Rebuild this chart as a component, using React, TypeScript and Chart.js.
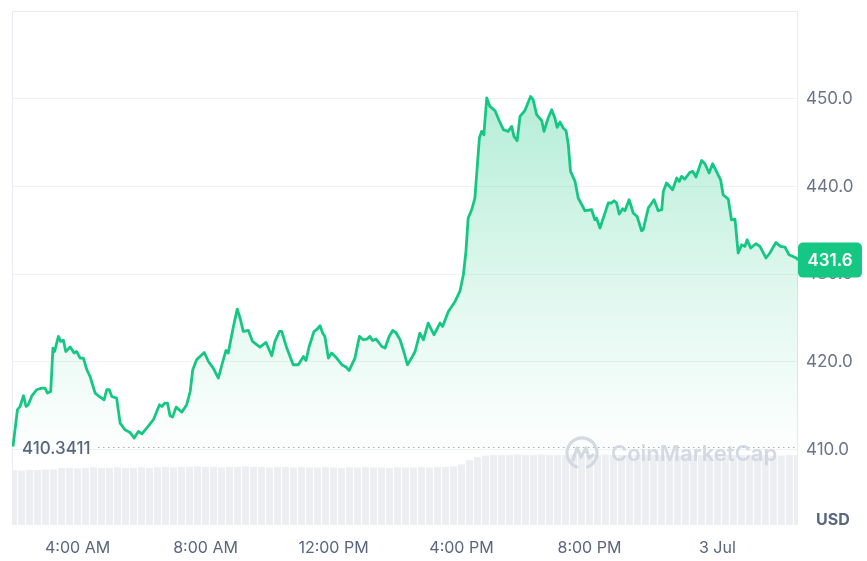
import React, { useEffect, useRef } from "react";
import { Chart, registerables } from "chart.js";

Chart.register(...registerables);

// ---- Data ----
// time in hours since 00:00 on 2 Jul
const priceTimes = [
  1.98, 2.12, 2.2, 2.31, 2.39, 2.46, 2.57, 2.72, 2.88, 2.98,
  3.06, 3.16, 3.23, 3.28, 3.4, 3.47, 3.56, 3.63, 3.77, 3.89,
  3.97, 4.08, 4.18, 4.29, 4.39, 4.55, 4.65, 4.83, 4.91, 4.99,
  5.07, 5.22, 5.33, 5.48, 5.64, 5.77, 5.9, 6.01, 6.16, 6.37,
  6.56, 6.63, 6.73, 6.81, 6.89, 6.97, 7.08, 7.26, 7.41, 7.52,
  7.6, 7.72, 7.85, 7.96, 8.09, 8.24, 8.4, 8.54, 8.64, 8.71,
  8.85, 8.99, 9.08, 9.18, 9.34, 9.47, 9.7, 9.89, 10.07, 10.17,
  10.31, 10.38, 10.54, 10.74, 10.9, 11.06, 11.14, 11.24, 11.39, 11.47,
  11.58, 11.66, 11.73, 11.84, 11.94, 12.1, 12.26, 12.39, 12.49, 12.67,
  12.81, 12.93, 13.04, 13.14, 13.22, 13.33, 13.51, 13.61, 13.74, 13.85,
  13.95, 14.08, 14.18, 14.31, 14.44, 14.55, 14.7, 14.81, 14.96, 15.14,
  15.33, 15.41, 15.59, 15.8, 15.95, 16.06, 16.14, 16.21, 16.32, 16.42,
  16.56, 16.63, 16.7, 16.79, 16.89, 17.05, 17.18, 17.31, 17.46, 17.57,
  17.64, 17.74, 17.83, 17.98, 18.16, 18.24, 18.35, 18.51, 18.58, 18.71,
  18.82, 18.92, 18.99, 19.08, 19.18, 19.27, 19.34, 19.41, 19.55, 19.65,
  19.86, 20.07, 20.17, 20.22, 20.33, 20.45, 20.59, 20.69, 20.77, 20.85,
  20.93, 21.04, 21.11, 21.24, 21.37, 21.49, 21.63, 21.68, 21.84, 22.02,
  22.15, 22.26, 22.31, 22.41, 22.6, 22.73, 22.81, 22.88, 22.98, 23.14,
  23.23, 23.33, 23.51, 23.61, 23.74, 23.85, 23.97, 24.1, 24.18, 24.34,
  24.44, 24.55, 24.65, 24.76, 24.86, 24.93, 25.04, 25.2, 25.33, 25.52,
  25.64, 25.83, 25.97, 26.11, 26.24, 26.47, 26.52,
];

const priceValues = [
  410.34, 414.54, 414.91, 416.13, 414.91, 415.11, 416.13, 416.82, 417.01, 417.01,
  416.44, 416.62, 421.57, 421.18, 422.9, 422.33, 422.44, 421.18, 421.69, 421.0,
  421.18, 420.43, 420.43, 419.1, 418.33, 416.44, 416.13, 415.68, 416.82, 416.82,
  416.05, 415.87, 413.02, 412.26, 411.95, 411.31, 412.06, 411.8, 412.45, 413.4,
  415.11, 414.91, 415.3, 415.3, 413.85, 413.7, 414.84, 414.27, 415.11, 416.62,
  419.1, 420.24, 420.69, 421.07, 420.04, 419.29, 418.15, 420.04, 421.3, 421.0,
  423.66, 426.02, 424.99, 423.47, 423.58, 422.33, 421.69, 422.21, 420.69, 422.33,
  423.47, 423.47, 421.57, 419.67, 419.67, 420.61, 420.16, 421.75, 423.47, 423.66,
  424.12, 423.28, 422.9, 420.43, 421.0, 420.43, 419.67, 419.41, 419.02, 420.43,
  422.9, 422.52, 422.6, 422.9, 422.44, 422.6, 421.75, 421.57, 422.9, 423.58,
  423.35, 422.52, 421.38, 419.67, 420.43, 421.18, 423.28, 422.52, 424.42, 423.09,
  424.42, 424.04, 425.75, 426.89, 428.03, 429.93, 432.59, 436.4, 437.34, 438.68,
  445.52, 446.27, 445.89, 450.08, 449.12, 448.63, 447.49, 446.47, 446.27, 446.84,
  445.7, 445.21, 447.98, 448.63, 450.26, 449.89, 448.18, 447.49, 446.27, 447.8,
  448.75, 447.8, 446.73, 447.34, 446.66, 446.35, 444.75, 441.71, 440.57, 438.68,
  437.23, 437.34, 436.2, 436.4, 435.26, 436.58, 438.11, 438.11, 438.37, 438.11,
  436.85, 437.46, 437.23, 438.48, 436.97, 436.58, 434.95, 435.06, 437.54, 438.48,
  437.23, 437.34, 439.43, 440.39, 439.62, 440.96, 440.57, 441.14, 440.84, 441.6,
  441.71, 441.07, 442.96, 442.59, 441.53, 442.59, 441.71, 440.76, 439.05, 438.56,
  436.2, 436.28, 432.41, 433.35, 433.16, 433.92, 432.98, 433.47, 433.16, 431.84,
  432.41, 433.61, 433.16, 433.09, 432.21, 431.84, 431.6,
];

// volume bars every 15 minutes, starting 02:00
const volumeStartHour = 2.0;
const volumeStepHours = 0.25;
const volumeValues = [
  1.07, 1.06, 1.07, 1.07, 1.08, 1.08,
  1.11, 1.11, 1.1, 1.11, 1.12, 1.11, 1.11, 1.12, 1.11, 1.11, 1.12, 1.11,
  1.12, 1.13, 1.12, 1.13, 1.13, 1.14, 1.13, 1.13, 1.12, 1.13, 1.13, 1.14, 1.13, 1.13, 1.12, 1.13, 1.13, 1.12, 1.13,
  1.12, 1.12, 1.13, 1.12, 1.11, 1.12, 1.12, 1.13, 1.12, 1.12, 1.11, 1.12, 1.12, 1.12, 1.13, 1.12, 1.13, 1.13, 1.14,
  1.18, 1.26, 1.32,
  1.35, 1.36, 1.36, 1.36, 1.37, 1.36, 1.36, 1.37, 1.36, 1.36, 1.36, 1.37, 1.36, 1.36, 1.36, 1.37, 1.36, 1.36, 1.36,
  1.36, 1.36, 1.37, 1.36, 1.36, 1.35, 1.36, 1.36, 1.36, 1.36, 1.37, 1.36, 1.36, 1.36, 1.36, 1.36, 1.36, 1.35, 1.35,
  1.36, 1.36,
];

const xTickHours = [4, 8, 12, 16, 20, 24];
const xTickLabels = ["4:00 AM", "8:00 AM", "12:00 PM", "4:00 PM", "8:00 PM", "3 Jul"];
const yTickValues = [410, 420, 430, 440, 450];
const openPrice = 410.3411;
const openPriceLabel = "410.3411";
const lastPriceLabel = "431.6";
const currencyLabel = "USD";

const GREEN = "#16c784";
const FONT = "Inter, 'Noto Sans', sans-serif";

const overlayPlugin = {
  id: "cmcOverlay",
  beforeDatasetsDraw(chart: any) {
    const { ctx, chartArea } = chart;
    const { left, right, top, bottom } = chartArea;
    ctx.save();
    ctx.strokeStyle = "#e8ebef";
    ctx.lineWidth = 1;
    ctx.beginPath();
    ctx.moveTo(left + 0.5, bottom);
    ctx.lineTo(left + 0.5, top + 0.5);
    ctx.lineTo(right - 0.5, top + 0.5);
    ctx.lineTo(right - 0.5, bottom);
    ctx.stroke();
    ctx.restore();
  },
  afterDatasetsDraw(chart: any) {
    const { ctx, chartArea, scales } = chart;
    const { right } = chartArea;
    const y = scales.y.getPixelForValue(openPrice);
    ctx.save();
    // dotted open line
    ctx.strokeStyle = "#a6adbb";
    ctx.lineWidth = 1;
    ctx.setLineDash([1.5, 3.5]);
    ctx.beginPath();
    ctx.moveTo(98, Math.round(y) + 0.5);
    ctx.lineTo(right, Math.round(y) + 0.5);
    ctx.stroke();
    ctx.setLineDash([]);
    ctx.font = `500 17px ${FONT}`;
    ctx.fillStyle = "#58667e";
    ctx.textBaseline = "middle";
    ctx.textAlign = "left";
    ctx.fillText(openPriceLabel, 22, y + 2);

    // watermark
    const cx = 582;
    const cy = 453;
    ctx.globalAlpha = 0.9;
    ctx.strokeStyle = "#cfd5df";
    ctx.lineWidth = 3.2;
    ctx.lineCap = "round";
    ctx.lineJoin = "round";
    ctx.beginPath();
    ctx.arc(cx, cy, 15, Math.PI * 0.62, Math.PI * 2.38, false);
    ctx.stroke();
    ctx.beginPath();
    ctx.moveTo(cx - 9, cy + 7);
    ctx.lineTo(cx - 5, cy - 5);
    ctx.lineTo(cx - 1, cy + 4);
    ctx.lineTo(cx + 4, cy - 5);
    ctx.lineTo(cx + 7, cy + 5);
    ctx.lineTo(cx + 11, cy + 2);
    ctx.stroke();
    ctx.fillStyle = "#cfd5df";
    ctx.font = `600 22px ${FONT}`;
    ctx.textBaseline = "middle";
    ctx.fillText("CoinMarketCap", 611, cy + 1);
    ctx.restore();
  },
  afterDraw(chart: any) {
    const { ctx, chartArea, scales } = chart;
    const y = scales.y.getPixelForValue(priceValues[priceValues.length - 1]);
    const x0 = chartArea.right;
    const w = 64;
    const h = 35;
    ctx.save();
    ctx.fillStyle = GREEN;
    ctx.beginPath();
    (ctx as any).roundRect(x0, y - h / 2, w, h, 5);
    ctx.fill();
    ctx.fillStyle = "#ffffff";
    ctx.font = `600 17px ${FONT}`;
    ctx.textAlign = "center";
    ctx.textBaseline = "middle";
    ctx.fillText(lastPriceLabel, x0 + w / 2, y + 1);
    // currency
    ctx.fillStyle = "#58667e";
    ctx.font = `700 16px ${FONT}`;
    ctx.textAlign = "left";
    ctx.fillText(currencyLabel, 816, 520);
    ctx.restore();
  },
};

export default function App() {
  const canvasRef = useRef<HTMLCanvasElement | null>(null);

  useEffect(() => {
    const canvas = canvasRef.current;
    if (!canvas) return;
    const n = Math.min(priceTimes.length, priceValues.length);
    const priceData = [];
    for (let i = 0; i < n; i++) priceData.push({ x: priceTimes[i], y: priceValues[i] });
    const volData = volumeValues.map((v, i) => ({ x: volumeStartHour + i * volumeStepHours, y: v }));

    const chart = new Chart(canvas, {
      type: "line",
      data: {
        datasets: [
          {
            type: "line",
            label: "Price",
            data: priceData,
            yAxisID: "y",
            borderColor: GREEN,
            borderWidth: 2.8,
            pointRadius: 0,
            tension: 0,
            borderJoinStyle: "round",
            fill: "start",
            order: 0,
            backgroundColor: (context: any) => {
              const c = context.chart;
              const area = c.chartArea;
              if (!area) return "rgba(22,199,132,0.2)";
              const yEnd = c.scales.y.getPixelForValue(409);
              const g = c.ctx.createLinearGradient(0, area.top + 60, 0, yEnd);
              g.addColorStop(0, "rgba(22,199,132,0.34)");
              g.addColorStop(0.6, "rgba(22,199,132,0.12)");
              g.addColorStop(1, "rgba(22,199,132,0)");
              return g;
            },
          } as any,
          {
            type: "bar",
            label: "Volume",
            data: volData,
            yAxisID: "yVol",
            backgroundColor: "#eceef2",
            borderWidth: 0,
            barPercentage: 0.88,
            categoryPercentage: 1,
            order: 1,
          } as any,
        ],
      },
      options: {
        responsive: true,
        maintainAspectRatio: false,
        animation: false,
        layout: { padding: { left: 12, top: 11, right: 0, bottom: 0 } },
        plugins: {
          legend: { display: false },
          tooltip: { enabled: false },
        },
        scales: {
          x: {
            type: "linear",
            min: 1.95,
            max: 26.52,
            offset: false,
            grid: { display: false, drawTicks: false },
            border: { display: false },
            afterBuildTicks: (scale: any) => {
              scale.ticks = xTickHours.map((v) => ({ value: v }));
            },
            afterFit: (scale: any) => {
              scale.height = 36;
              scale.paddingLeft = 0;
              scale.paddingRight = 0;
              scale.paddingTop = 0;
              scale.paddingBottom = 0;
            },
            ticks: {
              autoSkip: false,
              maxRotation: 0,
              padding: 14,
              color: "#58667e",
              font: { family: FONT, size: 16, weight: 400 },
              callback: (value: any) => {
                const i = xTickHours.indexOf(Number(value));
                return i >= 0 ? xTickLabels[i] : "";
              },
            },
          },
          y: {
            type: "linear",
            position: "right",
            min: 401.4,
            max: 460,
            grid: { color: "#eff2f5", drawTicks: false, lineWidth: 1 },
            border: { display: false },
            afterBuildTicks: (scale: any) => {
              scale.ticks = yTickValues.map((v) => ({ value: v }));
            },
            afterFit: (scale: any) => {
              scale.width = 69;
              scale.paddingLeft = 0;
              scale.paddingRight = 0;
              scale.paddingTop = 0;
              scale.paddingBottom = 0;
            },
            ticks: {
              padding: 8,
              color: "#6b7488",
              font: { family: FONT, size: 17, weight: 400 },
              callback: (value: any) => Number(value).toFixed(1),
            },
          },
          yVol: {
            type: "linear",
            display: false,
            min: 0,
            max: 10,
          },
        },
      },
      plugins: [overlayPlugin],
    });

    return () => chart.destroy();
  }, []);

  return (
    <div style={{ position: "absolute", left: 0, top: 0, width: 867, height: 561, background: "#fff" }}>
      <canvas ref={canvasRef} />
    </div>
  );
}
